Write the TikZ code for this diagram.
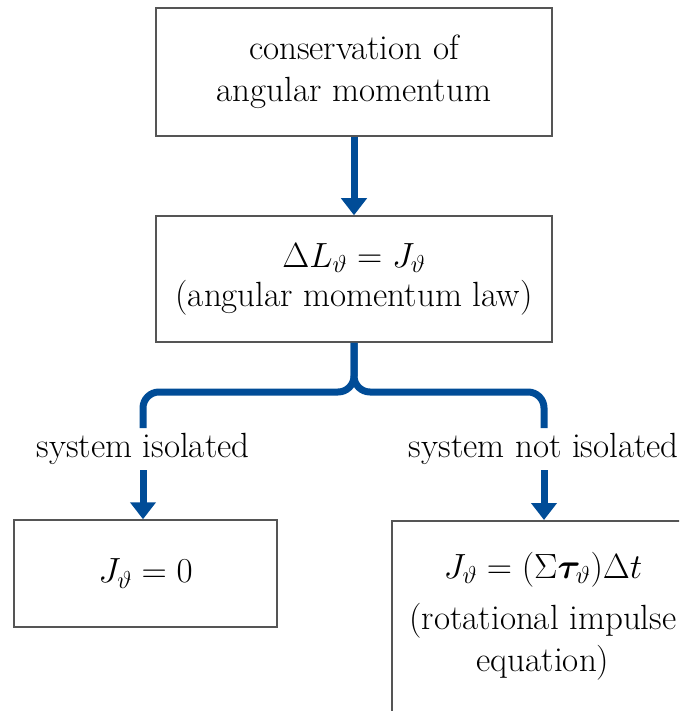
\RequirePackage{fix-cm}
\documentclass[tikz,border=0pt]{standalone}
\usepackage{amsmath,bm}
\usetikzlibrary{arrows.meta}
\definecolor{flowblue}{RGB}{0,76,151}
\definecolor{boxgray}{RGB}{85,85,85}
\begin{document}
\begin{tikzpicture}[x=1pt,y=-1pt,
  box/.style={draw=boxgray,line width=1.5pt,rectangle,align=center,inner sep=0pt,
    font=\fontsize{35}{42}\selectfont},
  flow/.style={draw=flowblue,line width=7pt},
  flowarrow/.style={flow,-{Triangle[width=25pt,length=17pt]}},
  lbl/.style={font=\fontsize{35}{42}\selectfont,inner sep=0pt}]
\useasboundingbox (0,0) rectangle (679,711);
\clip (0,0) rectangle (679,711);
\node[box,minimum width=396pt,minimum height=128pt] (top) at (354,72)
  {conservation of\\angular momentum};
\node[box,minimum width=396pt,minimum height=126pt] (law) at (354,279)
  {$\Delta L_\vartheta = J_\vartheta$\\[-3pt](angular momentum law)};
\node[box,minimum width=263pt,minimum height=107pt] (iso) at (145.5,573.5)
  {$J_\vartheta = 0$};
\node[box,minimum width=304pt,minimum height=220pt,anchor=north west] (notiso) at (391,520) {};
\node[lbl,align=center] (notisotext) at (543,616)
  {$J_\vartheta = (\Sigma\bm{\tau}_\vartheta)\Delta t$\\[9pt](rotational impulse\\equation)};
\draw[flowarrow] (top.south) -- (law.north);
\coordinate (split) at (354,392);
\coordinate (lcorner) at (143,392);
\coordinate (rcorner) at (544,392);
\coordinate (lend) at (143,428);
\coordinate (rend) at (544,428);
\draw[flow,rounded corners=16pt] (law.south) -- (split) -- (lcorner) -- (lend);
\draw[flow,rounded corners=16pt] (law.south) -- (split) -- (rcorner) -- (rend);
\node[lbl] (lisolated) at (143,449) {system isolated};
\node[lbl,anchor=east] (lnotisolated) at (679,449) {system not isolated};
\coordinate (lstart) at (143,470);
\coordinate (rstart) at (544,470);
\draw[flowarrow] (lstart) -- (iso.north -| lstart);
\draw[flowarrow] (rstart) -- (notiso.north -| rstart);
\end{tikzpicture}
\end{document}
